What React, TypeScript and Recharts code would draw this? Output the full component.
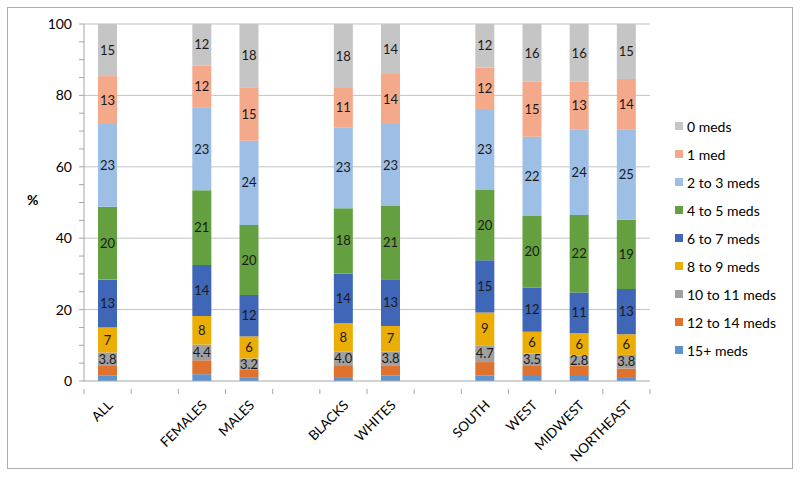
import { BarChart, Bar, XAxis, YAxis, CartesianGrid, LabelList } from 'recharts';

// x slots, empty strings are the spacer columns between groups
const slots = ['ALL', '', 'FEMALES', 'MALES', '', 'BLACKS', 'WHITES', '', 'SOUTH', 'WEST', 'MIDWEST', 'NORTHEAST'];
const groups = ['ALL', 'FEMALES', 'MALES', 'BLACKS', 'WHITES', 'SOUTH', 'WEST', 'MIDWEST', 'NORTHEAST'];

// % of people per group (bottom to top of stack)
const meds15plus = [1.6, 1.9, 0.9, 1.1, 1.5, 1.5, 1.4, 1.4, 1.1];
const meds12to14 = [2.6, 3.9, 2.2, 3.1, 2.9, 3.8, 2.8, 2.9, 2.4];
const meds10to11 = [3.8, 4.4, 3.2, 4.0, 3.8, 4.7, 3.5, 2.8, 3.8];
const meds8to9 = [7.0, 8.0, 6.2, 8.0, 7.2, 9.2, 6.1, 6.3, 5.8];
const meds6to7 = [13.4, 14.3, 11.6, 13.9, 13.1, 14.6, 12.4, 11.4, 12.7];
const meds4to5 = [20.4, 20.9, 19.6, 18.3, 20.5, 19.7, 20.0, 21.7, 19.4];
const meds2to3 = [23.2, 23.1, 23.6, 22.7, 23.0, 22.7, 22.2, 24.0, 25.3];
const med1 = [13.4, 11.9, 15.0, 11.0, 14.0, 11.6, 15.4, 13.3, 14.1];
const meds0 = [14.6, 11.6, 17.7, 17.9, 14.0, 12.2, 16.2, 16.2, 15.4];

const yTicks = [0, 5, 10, 15, 20, 25, 30, 35, 40, 45, 50, 55, 60, 65, 70, 75, 80, 85, 90, 95, 100];
const gridValues = [20, 40, 60, 80, 100];

const series = [
  { key: 'm15', name: '15+ meds', values: meds15plus, color: '#5B93D3', label: 'none' },
  { key: 'm12', name: '12 to 14 meds', values: meds12to14, color: '#DE722E', label: 'none' },
  { key: 'm10', name: '10 to 11 meds', values: meds10to11, color: '#A0A0A0', label: 'dec' },
  { key: 'm8', name: '8 to 9 meds', values: meds8to9, color: '#EBAE06', label: 'int' },
  { key: 'm6', name: '6 to 7 meds', values: meds6to7, color: '#3F66B7', label: 'int' },
  { key: 'm4', name: '4 to 5 meds', values: meds4to5, color: '#64A03F', label: 'int' },
  { key: 'm2', name: '2 to 3 meds', values: meds2to3, color: '#9DBFE6', label: 'int' },
  { key: 'm1', name: '1 med', values: med1, color: '#F3A98A', label: 'int' },
  { key: 'm0', name: '0 meds', values: meds0, color: '#C5C5C5', label: 'int' },
];

const data = slots.map((cat) => {
  const row: Record<string, string | number> = { cat };
  const gi = groups.indexOf(cat);
  if (gi >= 0) series.forEach((s) => { row[s.key] = s.values[gi]; });
  return row;
});

const W = 800;
const H = 477;
const PLOT_LEFT = 84;
const PLOT_RIGHT = 650;
const BAND = (PLOT_RIGHT - PLOT_LEFT) / slots.length;

function CatTick(props: any) {
  const { x, y, payload, index } = props;
  return (
    <g>
      <line x1={x - BAND / 2} x2={x - BAND / 2} y1={y} y2={y + 5} stroke="#A6A6A6" />
      {index === slots.length - 1 && (
        <line x1={x + BAND / 2} x2={x + BAND / 2} y1={y} y2={y + 5} stroke="#A6A6A6" />
      )}
      <text
        x={x + 6}
        y={y + 17}
        textAnchor="end"
        fontSize={13.5}
        fill="#000"
        transform={`rotate(-45 ${x + 6} ${y + 17})`}
      >
        {payload.value}
      </text>
    </g>
  );
}

export default function App() {
  return (
    <div style={{ position: 'relative', width: W, height: H, fontFamily: 'Lato, sans-serif', background: '#fff' }}>
      <style>{'body{margin:0}'}</style>
      <div
        style={{
          position: 'absolute', left: 7, top: 7, width: 786, height: 462,
          border: '1px solid #ADADAD', boxSizing: 'border-box',
        }}
      />
      <div style={{ position: 'absolute', left: 0, top: 0 }}>
        <BarChart
          width={W}
          height={H}
          data={data}
          margin={{ top: 24, right: W - PLOT_RIGHT, left: PLOT_LEFT - 40, bottom: 16 }}
          barSize={19}
        >
          <CartesianGrid vertical={false} stroke="#C3C3C3" horizontalValues={gridValues} />
          <XAxis
            dataKey="cat"
            height={80}
            interval={0}
            tickLine={false}
            axisLine={{ stroke: '#A6A6A6' }}
            tick={<CatTick />}
          />
          <YAxis
            width={40}
            domain={[0, 100]}
            ticks={yTicks}
            interval={0}
            tickFormatter={(v: number) => (v % 20 === 0 ? String(v) : '')}
            tick={{ fontSize: 14, fill: '#000' }}
            tickSize={5}
            tickMargin={7}
            tickLine={{ stroke: '#A6A6A6' }}
            axisLine={{ stroke: '#A6A6A6' }}
          />
          {series.map((s) => (
            <Bar key={s.key} dataKey={s.key} name={s.name} stackId="a" fill={s.color} isAnimationActive={false}>
              {s.label !== 'none' && (
                <LabelList
                  dataKey={s.key}
                  position="center"
                  fontSize={13}
                  fill="#1A1A1A"
                  formatter={(v: any) =>
                    v == null ? '' : s.label === 'dec' ? Number(v).toFixed(1) : String(Math.round(Number(v)))
                  }
                />
              )}
            </Bar>
          ))}
        </BarChart>
      </div>
      <div style={{ position: 'absolute', left: 27, top: 191, fontSize: 14, fontWeight: 'bold' }}>%</div>
      <div style={{ position: 'absolute', left: 675, top: 112 }}>
        {[...series].reverse().map((s) => (
          <div key={s.key} style={{ display: 'flex', alignItems: 'center', height: 28, fontSize: 14, color: '#000' }}>
            <span style={{ width: 8, height: 8, background: s.color, marginRight: 4, display: 'inline-block' }} />
            {s.name}
          </div>
        ))}
      </div>
    </div>
  );
}
